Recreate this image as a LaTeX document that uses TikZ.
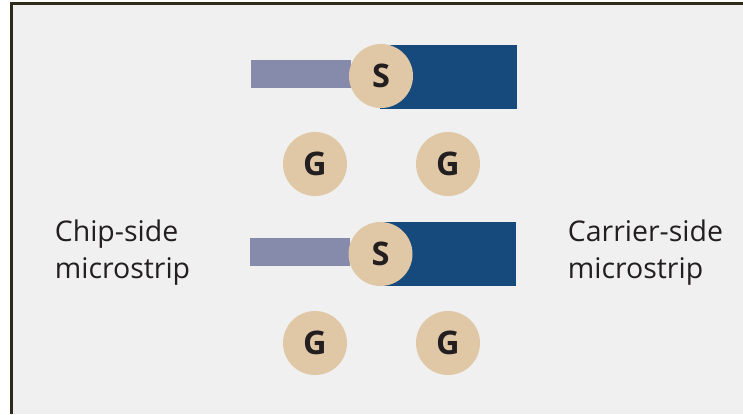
\documentclass[tikz,border=0pt]{standalone}
\usepackage{xcolor}
\usepackage{fontspec}
\setmainfont{Open Sans}
\usetikzlibrary{positioning}
\definecolor{panelcolor}{RGB}{240, 240, 240}
\definecolor{framecolor}{RGB}{47, 42, 26}
\definecolor{chipcolor}{RGB}{134, 138, 171}
\definecolor{carriercolor}{RGB}{23, 74, 124}
\definecolor{padcolor}{RGB}{224, 200, 166}
\definecolor{labelcolor}{RGB}{35, 31, 32}

\begin{document}
\begin{tikzpicture}[
    x=0.02cm, y=-0.02cm,
    chipstrip/.style={fill=chipcolor, inner sep=0pt, minimum width=100*0.02cm, minimum height=28*0.02cm},
    carrierstrip/.style={fill=carriercolor, inner sep=0pt, minimum width=137*0.02cm, minimum height=64*0.02cm},
    pad/.style={circle, fill=padcolor, text=labelcolor, inner sep=0pt, minimum size=64*0.02cm, font=\fontsize{18.5}{20}\selectfont\bfseries},
    sidelabel/.style={text=labelcolor, align=left, inner sep=0pt, font=\fontsize{16.2}{21.4}\selectfont}
]
\useasboundingbox (0, 0) rectangle (743, 414);

% Panel and frame
\fill[panelcolor] (12, 4) rectangle (743, 414);
\draw[framecolor, line width=2.5*0.02cm] (11.5, 414) -- (11.5, 3.5) -- (743, 3.5);

% Upper pair of strips
\node[chipstrip] (chiptop) at (301, 74) {};
\node[carrierstrip] (carriertop) at (448.5, 77) {};
\node[pad] (signaltop) at (381, 76) {S};
\node[pad] (groundtopleft) at (315, 164) {G};
\node[pad] (groundtopright) at (448, 164) {G};

% Lower pair of strips
\node[chipstrip] (chipbottom) at (300, 252) {};
\node[carrierstrip] (carrierbottom) at (447.5, 254) {};
\node[pad] (signalbottom) at (380.5, 254) {S};
\node[pad] (groundbottomleft) at (315, 343) {G};
\node[pad] (groundbottomright) at (448, 343) {G};

% Side labels
\node[sidelabel, anchor=west] (chiplabel) at (54.5, 252.5) {Chip-side\\microstrip};
\node[sidelabel, anchor=west] (carrierlabel) at (567.5, 252.5) {Carrier-side\\microstrip};

\end{tikzpicture}
\end{document}
